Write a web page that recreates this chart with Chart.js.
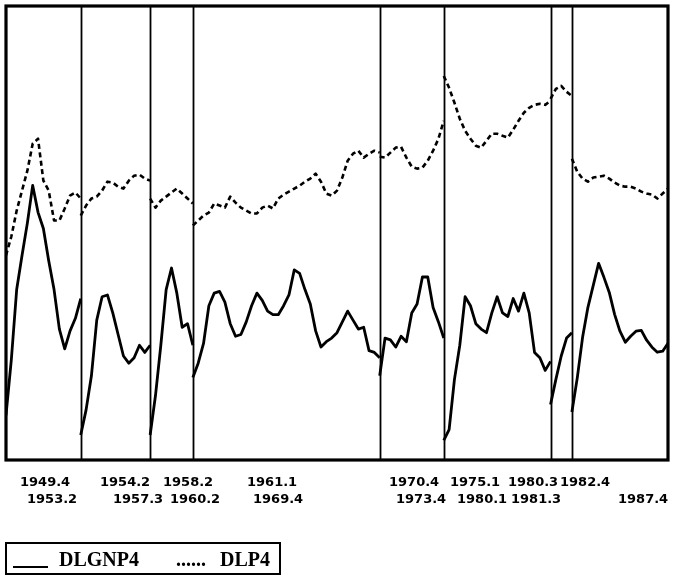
<!DOCTYPE html>
<html><head><meta charset="utf-8">
<script src="https://cdn.jsdelivr.net/npm/chart.js@4.4.1/dist/chart.umd.min.js"></script>
<style>html,body{margin:0;padding:0;background:#fff;}#wrap{position:relative;width:684px;height:584px;}</style>
</head><body><div id="wrap"><canvas id="c" width="684" height="584"></canvas></div>
<script>
// Expansion periods (trough quarter -> peak quarter)
const cycleStarts = ['1949.4','1954.2','1958.2','1961.1','1970.4','1975.1','1980.3','1982.4'];
const cycleEnds   = ['1953.2','1957.3','1960.2','1969.4','1973.4','1980.1','1981.3','1987.4'];
const seriesNames = ['DLGNP4','DLP4'];

// DLGNP4: four-quarter growth of real GNP (%), one array per expansion
const dlgnp4_c1 = [-1.9, 1.2, 5.1, 7.0, 8.8, 10.9, 9.4, 8.5, 6.7, 5.1, 2.9, 1.8, 2.8, 3.5, 4.6];
const dlgnp4_c2 = [-3.0, -1.6, 0.3, 3.4, 4.7, 4.8, 3.8, 2.6, 1.4, 1.0, 1.3, 2.0, 1.6, 2.0];
const dlgnp4_c3 = [-3.0, -0.8, 2.0, 5.1, 6.3, 4.9, 3.0, 3.2, 2.0];
const dlgnp4_c4 = [0.2, 1.0, 2.1, 4.2, 4.9, 5.0, 4.4, 3.2, 2.5, 2.6, 3.3, 4.2, 4.9, 4.5, 3.9, 3.7, 3.7, 4.2, 4.8, 6.2,
                   6.0, 5.1, 4.3, 2.8, 1.9, 2.2, 2.4, 2.7, 3.3, 3.9, 3.4, 2.9, 3.0, 1.7, 1.6, 1.3];
const dlgnp4_c5 = [0.3, 2.4, 2.3, 1.9, 2.5, 2.2, 3.8, 4.3, 5.8, 5.8, 4.1, 3.3, 2.4];
const dlgnp4_c6 = [-3.3, -2.7, 0.1, 2.0, 4.7, 4.2, 3.2, 2.9, 2.7, 3.8, 4.7, 3.8, 3.6, 4.6, 3.9, 4.9, 3.8, 1.6, 1.3, 0.6, 1.1];
const dlgnp4_c7 = [-1.3, 0.1, 1.4, 2.4, 2.7];
const dlgnp4_c8 = [-1.72, 0.17, 2.44, 4.11, 5.33, 6.56, 5.78, 4.94, 3.72, 2.78, 2.17, 2.5, 2.78, 2.83, 2.28, 1.89, 1.61, 1.67, 2.11];

// DLP4: four-quarter inflation (%), one array per expansion
const dlp4_c1 = [-1.70, -0.41, 1.36, 2.72, 4.08, 5.92, 6.26, 3.40, 2.72, 0.68, 0.68, 1.50, 2.38, 2.59, 2.18];
const dlp4_c2 = [1.02, 1.70, 2.18, 2.31, 2.72, 3.33, 3.27, 2.99, 2.86, 3.40, 3.74, 3.81, 3.54, 3.40];
const dlp4_c3 = [2.18, 1.56, 2.04, 2.31, 2.59, 2.86, 2.52, 2.18, 1.84];
const dlp4_c4 = [0.34, 0.68, 1.02, 1.22, 1.84, 1.70, 1.56, 2.31, 1.90, 1.56, 1.36, 1.16, 1.16, 1.56, 1.70, 1.50, 2.18, 2.45, 2.65, 2.86,
                 3.06, 3.33, 3.54, 3.88, 3.33, 2.52, 2.38, 2.72, 3.61, 4.76, 5.24, 5.44, 4.97, 5.24, 5.44, 5.31];
const dlp4_c5 = [5.03, 4.97, 5.31, 5.65, 5.71, 4.97, 4.35, 4.22, 4.29, 4.76, 5.44, 6.26, 7.48];
const dlp4_c6 = [10.54, 9.73, 8.71, 7.62, 6.80, 6.26, 5.78, 5.65, 6.12, 6.60, 6.60, 6.46, 6.33, 6.87, 7.48, 8.03, 8.37, 8.57, 8.64, 8.57, 8.84];
const dlp4_c7 = [8.98, 9.66, 9.86, 9.46, 9.18];
const dlp4_c8 = [4.90, 4.01, 3.54, 3.33, 3.61, 3.67, 3.74, 3.54, 3.27, 3.06, 2.99, 2.99, 2.86, 2.65, 2.52, 2.45, 2.18, 2.52, 2.86];

const gnpSegs = [dlgnp4_c1, dlgnp4_c2, dlgnp4_c3, dlgnp4_c4, dlgnp4_c5, dlgnp4_c6, dlgnp4_c7, dlgnp4_c8];
const pSegs   = [dlp4_c1, dlp4_c2, dlp4_c3, dlp4_c4, dlp4_c5, dlp4_c6, dlp4_c7, dlp4_c8];

// Each expansion is laid end to end on a quarter-count axis; a gap (null) breaks the line between them
function buildPoints(segs) {
  const pts = []; let off = 0;
  segs.forEach((s, i) => {
    if (i > 0) pts.push({x: off, y: null});
    s.forEach((v, j) => pts.push({x: off + j, y: v}));
    off += s.length - 1;
  });
  return pts;
}
const boundaries = [];
(function(){ let off = 0; gnpSegs.forEach(s => { boundaries.push(off); off += s.length - 1; }); boundaries.push(off); })();
const xMax = boundaries[boundaries.length - 1];

// Layout for the date labels (pixel positions, not data)
const LABEL_FONT = "bold 13px 'DejaVu Sans'";
const row1X = [20, 100, 163, 247, 389, 450, 508, 560];
const row2X = [27, 113, 170, 253, 396, 457, 511, 618];

const framePlugin = {
  id: 'frame',
  beforeDatasetsDraw(chart) {
    const {ctx, chartArea: a, scales} = chart;
    ctx.save();
    ctx.strokeStyle = '#000';
    ctx.lineWidth = 1.8;
    boundaries.slice(1, -1).forEach(b => {
      const x = Math.round(scales.x.getPixelForValue(b)) + 0.5;
      ctx.beginPath(); ctx.moveTo(x, a.top); ctx.lineTo(x, a.bottom); ctx.stroke();
    });
    ctx.restore();
  },
  afterDraw(chart) {
    const {ctx, chartArea: a} = chart;
    ctx.save();
    ctx.strokeStyle = '#000';
    ctx.lineWidth = 3.2;
    ctx.strokeRect(a.left, a.top, a.right - a.left, a.bottom - a.top);
    // date labels
    ctx.fillStyle = '#000';
    ctx.font = LABEL_FONT;
    ctx.textBaseline = 'middle';
    ctx.textAlign = 'left';
    cycleStarts.forEach((t, i) => ctx.fillText(t, row1X[i], a.bottom + 23));
    cycleEnds.forEach((t, i) => ctx.fillText(t, row2X[i], a.bottom + 40));
    // legend box
    const ly = 543, lh = 31, lx = 6, lw = 274;
    ctx.lineWidth = 2;
    ctx.strokeRect(lx, ly, lw, lh);
    const base = ly + 23;
    ctx.beginPath(); ctx.moveTo(lx + 7, base + 1); ctx.lineTo(lx + 42, base + 1); ctx.stroke();
    ctx.font = "bold 20px 'Liberation Serif'";
    ctx.textBaseline = 'alphabetic';
    ctx.fillText(seriesNames[0], lx + 53, base);
    ctx.fillText('......', lx + 170, base);
    ctx.fillText(seriesNames[1], lx + 214, base);
    ctx.restore();
  }
};

new Chart(document.getElementById('c'), {
  type: 'line',
  data: {
    datasets: [
      { label: seriesNames[0], data: buildPoints(gnpSegs), yAxisID: 'y',
        borderColor: '#000', borderWidth: 2.8, pointRadius: 0, tension: 0, spanGaps: false,
        borderJoinStyle: 'round', fill: false },
      { label: seriesNames[1], data: buildPoints(pSegs), yAxisID: 'y2',
        borderColor: '#000', borderWidth: 2.6, borderDash: [5, 3.5], pointRadius: 0, tension: 0, spanGaps: false,
        borderJoinStyle: 'round', fill: false }
    ]
  },
  options: {
    responsive: false, animation: false, devicePixelRatio: 1,
    layout: { padding: { left: 6, top: 6, right: 16, bottom: 124 } },
    scales: {
      x: { type: 'linear', min: 0, max: xMax, display: false },
      y: { type: 'linear', min: -4.39, max: 20.89, display: false },
      y2: { type: 'linear', min: -15.65, max: 15.31, display: false }
    },
    plugins: { legend: { display: false }, tooltip: { enabled: false } }
  },
  plugins: [framePlugin]
});
</script></body></html>
